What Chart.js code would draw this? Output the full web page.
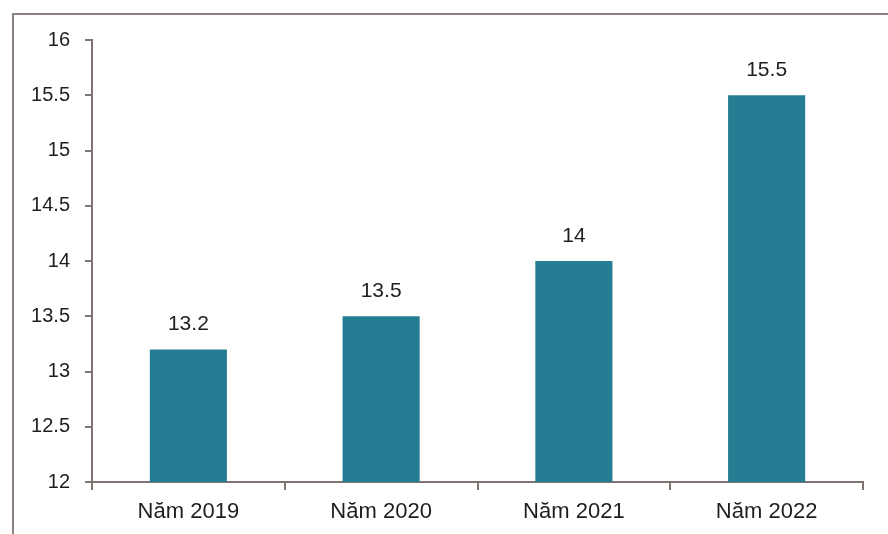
<!DOCTYPE html>
<html>
<head>
<meta charset="utf-8">
<script src="https://cdn.jsdelivr.net/npm/chart.js@4.4.1/dist/chart.umd.min.js"></script>
<style>
  html, body { margin: 0; padding: 0; background: #fff; overflow: hidden; }
  #frame {
    position: absolute; left: 12px; top: 13px; width: 900px; height: 560px;
    border-top: 2px solid #8e8280; border-left: 2px solid #8e8280;
  }
  #myChart { position: absolute; left: 0; top: 0; }
</style>
</head>
<body>
<div id="frame"></div>
<canvas id="myChart" width="888" height="534"></canvas>
<script>
const years = ['Năm 2019', 'Năm 2020', 'Năm 2021', 'Năm 2022'];
const values = [13.2, 13.5, 14, 15.5];
const yMin = 12;
const yMax = 16;
const yStep = 0.5;

const fontFamily = '"Liberation Sans", Arial, sans-serif';

// value labels above each bar
const barLabels = {
  id: 'barLabels',
  afterDatasetsDraw(chart) {
    const ctx = chart.ctx;
    const meta = chart.getDatasetMeta(0);
    ctx.save();
    ctx.font = '21px ' + fontFamily;
    ctx.fillStyle = '#1e1e1e';
    ctx.textAlign = 'center';
    ctx.textBaseline = 'middle';
    meta.data.forEach((bar, i) => {
      ctx.fillText(String(values[i]), bar.x, bar.y - 25);
    });
    ctx.restore();
  }
};

const data = {
  labels: years,
  datasets: [{
    data: values,
    backgroundColor: '#257d93',
    borderWidth: 0,
    barPercentage: 0.4,
    categoryPercentage: 1
  }]
};

const config = {
  type: 'bar',
  data,
  plugins: [barLabels],
  options: {
    responsive: false,
    animation: false,
    layout: { padding: { top: 40, right: 25, left: 0, bottom: 0 } },
    plugins: { legend: { display: false }, tooltip: { enabled: false } },
    scales: {
      x: {
        afterFit(scale) { scale.height = 52; },
        border: { color: '#7f7371', width: 2 },
        grid: { drawOnChartArea: false, drawTicks: true, tickLength: 8, color: '#7f7371', lineWidth: 2, offset: true },
        ticks: { color: '#1e1e1e', padding: 9, font: { family: fontFamily, size: 22 } }
      },
      y: {
        min: yMin,
        max: yMax,
        afterFit(scale) { scale.width = 92; },
        border: { color: '#7f7371', width: 2 },
        grid: { drawOnChartArea: false, drawTicks: true, tickLength: 7, color: '#7f7371', lineWidth: 2 },
        ticks: {
          stepSize: yStep,
          color: '#1e1e1e',
          padding: 15,
          font: { family: fontFamily, size: 20 },
          callback: (v) => String(v)
        }
      }
    }
  }
};

new Chart(document.getElementById('myChart'), config);
</script>
</body>
</html>
